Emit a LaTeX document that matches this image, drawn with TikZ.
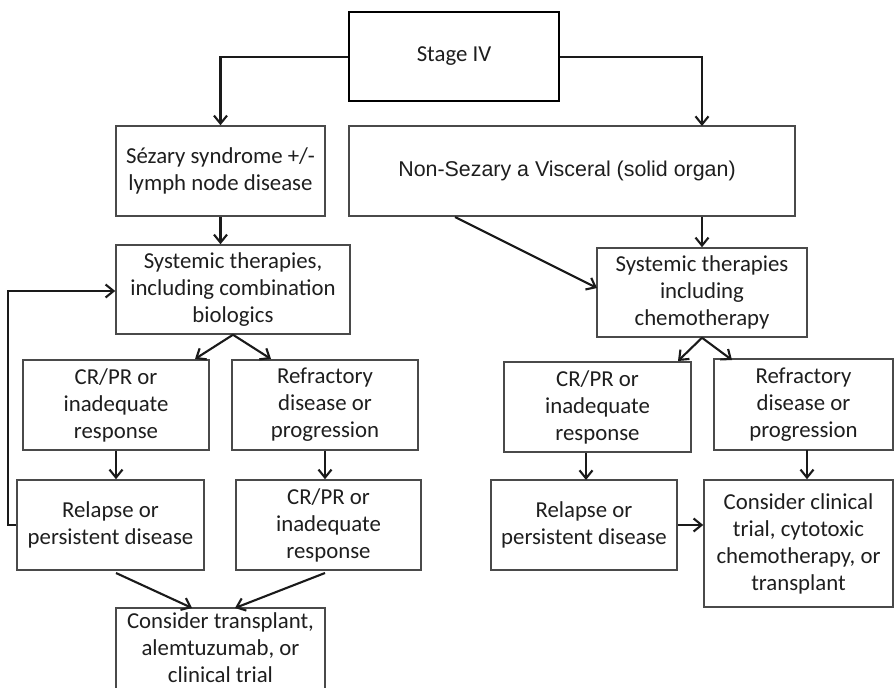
\documentclass[tikz,border=0pt]{standalone}
\usepackage{fontspec}
\setmainfont{Carlito}
\newfontfamily\arialfont{Liberation Sans}
\usetikzlibrary{arrows.meta,calc}
\definecolor{boxline}{HTML}{4A4A4A}
\definecolor{arrowline}{HTML}{1A1A1A}
\definecolor{txt}{HTML}{1E1E1E}
\tikzset{
  fbox/.style={draw=boxline, line width=1.5pt, fill=white, align=center, inner sep=0pt,
    text=txt, font=\fontsize{22.8}{27}\selectfont},
  mainbox/.style={fbox, draw=black, line width=2.6pt},
  arr/.style={draw=arrowline, line width=2.1pt, -{Straight Barb[length=8pt,width=13pt,line width=2.1pt]}},
}
\begin{document}
\begin{tikzpicture}[x=1pt,y=-1pt]
\useasboundingbox (0,0) rectangle (895,688);
\clip (0,0) rectangle (895,688);
\fill[white] (0,0) rectangle (895,688);

% nodes
\node[mainbox, minimum width=210, minimum height=89] (stage) at (454,56.5) {\raisebox{-3pt}{Stage IV}};
\node[fbox, minimum width=209, minimum height=90] (sez) at (220.5,171) {Sézary syndrome +/-\\lymph node disease};
\node[fbox, minimum width=446, minimum height=90, font=\arialfont\fontsize{21.4}{26}\selectfont] (nonsez) at (572,171) {\hspace*{-10pt}Non-Sezary a Visceral (solid organ)};
\node[fbox, minimum width=234, minimum height=89] (sysL) at (233,289.5) {Systemic therapies,\\including combination\\biologics};
\node[fbox, minimum width=186, minimum height=90] (crL) at (116,405) {CR/PR or\\inadequate\\response};
\node[fbox, minimum width=186, minimum height=90] (refL) at (325,405) {Refractory\\disease or\\progression};
\node[fbox, minimum width=187, minimum height=90] (relL) at (110.5,525) {Relapse or\\persistent disease};
\node[fbox, minimum width=185, minimum height=90] (cr2L) at (328.5,525) {CR/PR or\\inadequate\\response};
\node[fbox, minimum width=209, minimum height=84] (consL) at (220.5,650) {\raisebox{3pt}{\begin{tabular}{@{}c@{}}Consider transplant,\\alemtuzumab, or\\clinical trial\end{tabular}}};
\node[fbox, minimum width=210, minimum height=89] (sysR) at (702,292.5) {Systemic therapies\\including\\chemotherapy};
\node[fbox, minimum width=187, minimum height=90] (crR) at (597.5,407) {CR/PR or\\inadequate\\response};
\node[fbox, minimum width=179, minimum height=91] (refR) at (803.5,404.5) {Refractory\\disease or\\progression};
\node[fbox, minimum width=186, minimum height=90] (relR) at (584,525) {Relapse or\\persistent disease};
\node[fbox, minimum width=189, minimum height=127] (consR) at (798.5,543.5) {Consider clinical\\trial, cytotoxic\\chemotherapy, or\\transplant};

% helper coordinates
\coordinate (nonTop) at (702,126);
\coordinate (diagStart) at (455,217);
\coordinate (diagEnd) at (597,288);
\coordinate (loopL) at (8,525);
\coordinate (forkLa) at (195,359);
\coordinate (forkLb) at (271,359);
\coordinate (forkRa) at (678,361);
\coordinate (forkRb) at (732,360);
\coordinate (relRtop) at (586,480);
\coordinate (refRbot) at (807,450);
\coordinate (relLbot) at (116,573);
\coordinate (cr2Lbot) at (325,573);
\coordinate (consLa) at (192,608);
\coordinate (consLb) at (235,608);

% connectors
\draw[arr] ($(stage.west)+(0,0.5)$) -| (sez.north);
\draw[arr] ($(stage.east)+(0,0.5)$) -| (nonTop);
\draw[arr] (sez.south) -- (sez.south |- sysL.north);
\draw[arr] (nonsez.south -| sysR.north) -- (sysR.north);
\draw[arr] (diagStart) -- (diagEnd);
\draw[arr] (sysL.south) -- (forkLa);
\draw[arr] (sysL.south) -- (forkLb);
\draw[arr] (sysR.south) -- (forkRa);
\draw[arr] (sysR.south) -- (forkRb);
\draw[arr] (crL.south) -- (crL.south |- relL.north);
\draw[arr] (refL.south) -- (refL.south |- cr2L.north);
\draw[arr] (relRtop |- crR.south) -- (relRtop);
\draw[arr] (refRbot) -- (refRbot |- consR.north);
\draw[arr] (relR.east) -- (relR.east -| consR.west);
\draw[arr] (relLbot) -- (consLa);
\draw[arr] (cr2Lbot) -- (consLb);
\draw[arr] (relL.west) -- (loopL) |- ($(sysL.west)+(0,1.5)$);
\end{tikzpicture}
\end{document}
